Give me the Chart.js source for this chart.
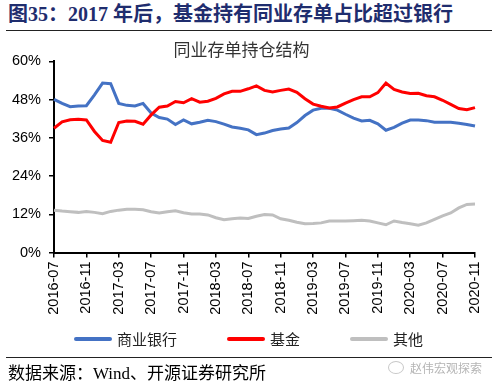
<!DOCTYPE html>
<html>
<head>
<meta charset="utf-8">
<script src="https://cdn.jsdelivr.net/npm/chart.js@4.4.1/dist/chart.umd.min.js"></script>
<style>
  body { margin: 0; width: 500px; height: 387px; position: relative; background: #fff; overflow: hidden; }
  .rule { position: absolute; left: 6px; width: 486px; height: 1px; background: #222; }
  #header { position: absolute; left: 8px; top: 2px; font: bold 20px "Liberation Serif", "Noto Sans CJK SC"; color: #1f2d6e; white-space: nowrap; line-height: 24px; }
  #chart { position: absolute; left: 0; top: 0; }
  #legend { position: absolute; left: 74px; top: 329px; display: flex; gap: 50px; font: 15px "Noto Sans CJK SC"; color: #222; line-height: 20px; }
  #legend .item { display: flex; align-items: center; }
  #legend .swatch { width: 38px; height: 4px; margin-right: 5px; border-radius: 2px; }
  #source { position: absolute; left: 8px; top: 363px; font: 17px "Liberation Serif", "Noto Sans CJK SC"; color: #000; line-height: 22px; white-space: nowrap; }
  #mark { position: absolute; left: 388px; top: 359px; font: 12px "Noto Sans CJK SC"; color: #b5b5b5; display: flex; align-items: center; gap: 6px; }
  #mark .icon { width: 14px; height: 11px; border: 1px solid #c8c8c8; border-radius: 50%; }
</style>
</head>
<body>
<div id="header">图35：2017 年后，基金持有同业存单占比超过银行</div>
<div class="rule" style="top:30px"></div>
<canvas id="chart" width="500" height="387"></canvas>
<div id="legend"></div>
<div class="rule" style="top:357px"></div>
<div id="source">数据来源：Wind、开源证券研究所</div>
<div id="mark"><span class="icon"></span>赵伟宏观探索</div>

<script>
// 月份 (2016-07 ~ 2020-11)
const months = [
    '2016-07', '2016-08', '2016-09', '2016-10', '2016-11', '2016-12',
    '2017-01', '2017-02', '2017-03', '2017-04', '2017-05', '2017-06',
    '2017-07', '2017-08', '2017-09', '2017-10', '2017-11', '2017-12',
    '2018-01', '2018-02', '2018-03', '2018-04', '2018-05', '2018-06',
    '2018-07', '2018-08', '2018-09', '2018-10', '2018-11', '2018-12',
    '2019-01', '2019-02', '2019-03', '2019-04', '2019-05', '2019-06',
    '2019-07', '2019-08', '2019-09', '2019-10', '2019-11', '2019-12',
    '2020-01', '2020-02', '2020-03', '2020-04', '2020-05', '2020-06',
    '2020-07', '2020-08', '2020-09', '2020-10', '2020-11'
];

// 持仓占比 (%)
const bankShare = [
    48.1, 46.8, 45.8, 46.0, 46.1, 49.5, 53.2, 53.0, 46.8, 46.2, 46.0, 46.8,
    43.8, 42.4, 41.9, 40.2, 41.6, 40.4, 40.9, 41.5, 41.1, 40.3, 39.4, 39.0,
    38.5, 37.0, 37.5, 38.3, 38.8, 39.1, 40.8, 43.0, 44.7, 45.3, 45.3, 44.7,
    43.4, 42.2, 41.3, 41.5, 40.4, 38.4, 39.3, 40.6, 41.6, 41.6, 41.4, 40.9,
    40.9, 40.9, 40.6, 40.2, 39.7
];
const fundShare = [
    39.0, 41.0, 41.7, 41.8, 41.6, 38.0, 35.2, 34.6, 40.8, 41.3, 41.2, 40.3,
    43.2, 45.6, 46.0, 47.4, 47.0, 48.3, 47.2, 47.5, 48.4, 49.8, 50.6, 50.6,
    51.4, 52.3, 50.9, 50.4, 50.9, 51.3, 50.3, 48.3, 46.6, 45.9, 45.4, 45.7,
    46.9, 48.0, 48.9, 48.9, 50.2, 53.2, 51.2, 50.4, 49.9, 50.0, 49.2, 48.9,
    47.8, 46.5, 45.2, 44.8, 45.5
];
const otherShare = [
    13.3, 13.0, 12.8, 12.6, 12.9, 12.6, 12.2, 12.9, 13.3, 13.6, 13.6, 13.4,
    12.8, 12.4, 12.8, 13.1, 12.5, 12.1, 12.1, 11.8, 10.9, 10.3, 10.6, 10.8,
    10.7, 11.4, 11.9, 11.8, 10.6, 10.1, 9.5, 9.0, 9.1, 9.3, 9.9, 9.9,
    9.9, 10.0, 10.1, 9.9, 9.3, 8.7, 9.9, 9.4, 9.0, 8.6, 9.3, 10.4,
    11.5, 12.4, 14.0, 15.1, 15.2
];

const yTicks = [0, 12, 24, 36, 48, 60];

const seriesNames = ['商业银行', '基金', '其他'];
const seriesColors = ['#4472C4', '#FF0000', '#BFBFBF'];

const axisFont = { family: '"Liberation Sans", Arial', size: 14.5 };

const datasets = [bankShare, fundShare, otherShare].map((values, i) => ({
    label: seriesNames[i],
    data: values,
    borderColor: seriesColors[i],
    backgroundColor: seriesColors[i],
    borderWidth: 3,
    pointRadius: 0,
    tension: 0,
    order: i === 1 ? 0 : 1
}));

new Chart(document.getElementById('chart'), {
    type: 'line',
    data: { labels: months, datasets: datasets },
    options: {
        responsive: false,
        animation: false,
        layout: { padding: { top: 36, left: 8, right: 25, bottom: 64.5 } },
        plugins: {
            legend: { display: false },
            tooltip: { enabled: false },
            title: {
                display: true,
                text: '同业存单持仓结构',
                color: '#333',
                font: { family: '"Noto Sans CJK SC"', size: 17, weight: 'normal' },
                padding: { top: 3, bottom: 2 }
            }
        },
        scales: {
            x: {
                grid: { drawOnChartArea: false, drawTicks: true, tickLength: 5, color: '#000', lineWidth: 1.5 },
                border: { color: '#000', width: 2 },
                ticks: {
                    autoSkip: false, minRotation: 90, maxRotation: 90, padding: 4,
                    color: '#000', font: axisFont,
                    // 每4个月标一次
                    callback: function (value, index) {
                        return index % 4 === 0 ? this.getLabelForValue(value) : null;
                    }
                },
                afterFit: (scale) => { scale.height = 70; }
            },
            y: {
                min: 0, max: 60,
                grid: { drawOnChartArea: false, drawTicks: true, tickLength: 5, color: '#000', lineWidth: 1.5 },
                border: { color: '#000', width: 2 },
                afterBuildTicks: (scale) => { scale.ticks = yTicks.map(v => ({ value: v })); },
                ticks: {
                    padding: 8, color: '#000', font: axisFont,
                    callback: (v) => v + '%'
                },
                afterFit: (scale) => { scale.width = 46; }
            }
        }
    }
});

// 图例 (HTML)
const legendBox = document.getElementById('legend');
seriesNames.forEach((name, i) => {
    legendBox.innerHTML += `
        <div class="item">
            <span class="swatch" style="background:${seriesColors[i]}"></span>
            <span>${name}</span>
        </div>`;
});
</script>
</body>
</html>
